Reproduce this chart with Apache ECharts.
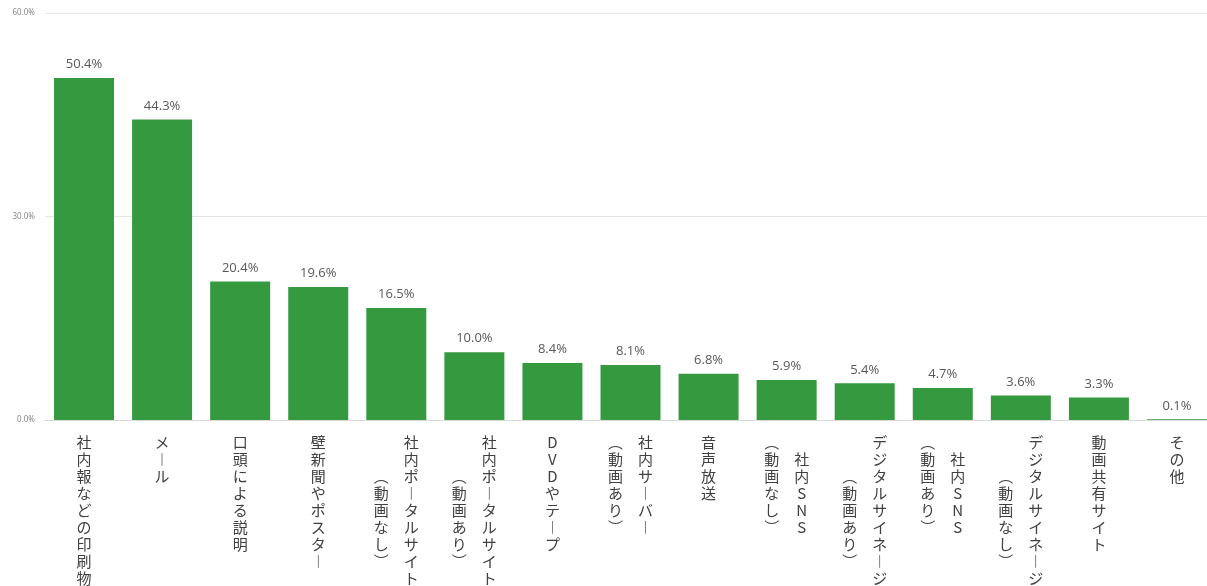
<!DOCTYPE html>
<html>
<head>
<meta charset="utf-8">
<script src="https://cdn.jsdelivr.net/npm/echarts@6/dist/echarts.min.js"></script>
<style>
html,body{margin:0;padding:0;background:#fff;overflow:hidden;width:1207px;height:586px;}
#chart{width:1216px;height:586px;}
</style>
</head>
<body>
<div id="chart"></div>
<script>
const categories = [
  '社内報などの印刷物',
  'メール',
  '口頭による説明',
  '壁新聞やポスター',
  '社内ポータルサイト\n(動画なし)',
  '社内ポータルサイト\n(動画あり)',
  'DVDやテープ',
  '社内サーバー\n(動画あり)',
  '音声放送',
  '社内SNS\n(動画なし)',
  'デジタルサイネージ\n(動画あり)',
  '社内SNS\n(動画あり)',
  'デジタルサイネージ\n(動画なし)',
  '動画共有サイト',
  'その他'
];
const values = [50.4, 44.3, 20.4, 19.6, 16.5, 10.0, 8.4, 8.1, 6.8, 5.9, 5.4, 4.7, 3.6, 3.3, 0.1];
const yTicks = [0, 30, 60];

const vmap = {'ー': '︱', '(': '︵', ')': '︶'};
function verticalChars(s) {
  return Array.from(s).map(c => vmap[c] || c);
}
function verticalLabel(label) {
  const parts = label.split('\n');
  let c1 = verticalChars(parts[0]);
  if (parts.length === 1) {
    return c1.map(ch => '{c|' + ch + '}').join('\n');
  }
  let c2 = verticalChars(parts[1]);
  const n = Math.max(c1.length, c2.length);
  const pad1 = Math.round((n - c1.length) / 2);
  const pad2 = Math.round((n - c2.length) / 2);
  const rows = [];
  for (let i = 0; i < n; i++) {
    const a = c2[i - pad2] || ' ';
    const b = c1[i - pad1] || ' ';
    rows.push('{c|' + a + '}{c|' + b + '}');
  }
  return rows.join('\n');
}

const chart = echarts.init(document.getElementById('chart'));
chart.setOption({
  animation: false,
  backgroundColor: '#ffffff',
  grid: { left: 45, right: 0, top: 13, bottom: 166, containLabel: false },
  xAxis: {
    type: 'category',
    data: categories,
    axisLine: { lineStyle: { color: '#d9d9d9', width: 1 } },
    axisTick: { show: false },
    axisLabel: {
      interval: 0,
      margin: 14,
      formatter: verticalLabel,
      rich: {
        c: {
          width: 30,
          align: 'center',
          fontSize: 15,
          lineHeight: 17,
          color: '#404040',
          fontFamily: '"Noto Sans CJK JP", sans-serif'
        }
      }
    }
  },
  yAxis: {
    type: 'value',
    min: yTicks[0],
    max: yTicks[yTicks.length - 1],
    interval: yTicks[1] - yTicks[0],
    axisLine: { show: false },
    axisTick: { show: false },
    splitLine: { lineStyle: { color: '#e6e6e6', width: 1 } },
    axisLabel: {
      fontSize: 8,
      color: '#888888',
      margin: 10,
      fontFamily: '"Noto Sans", sans-serif',
      formatter: v => v.toFixed(1) + '%'
    }
  },
  series: [{
    type: 'bar',
    data: values,
    barWidth: 60,
    itemStyle: { color: '#359a3f' },
    label: {
      show: true,
      position: 'top',
      distance: 7,
      fontSize: 13,
      color: '#595959',
      fontFamily: '"Open Sans", "Noto Sans", sans-serif',
      formatter: p => p.value.toFixed(1) + '%'
    }
  }]
});
</script>
</body>
</html>
